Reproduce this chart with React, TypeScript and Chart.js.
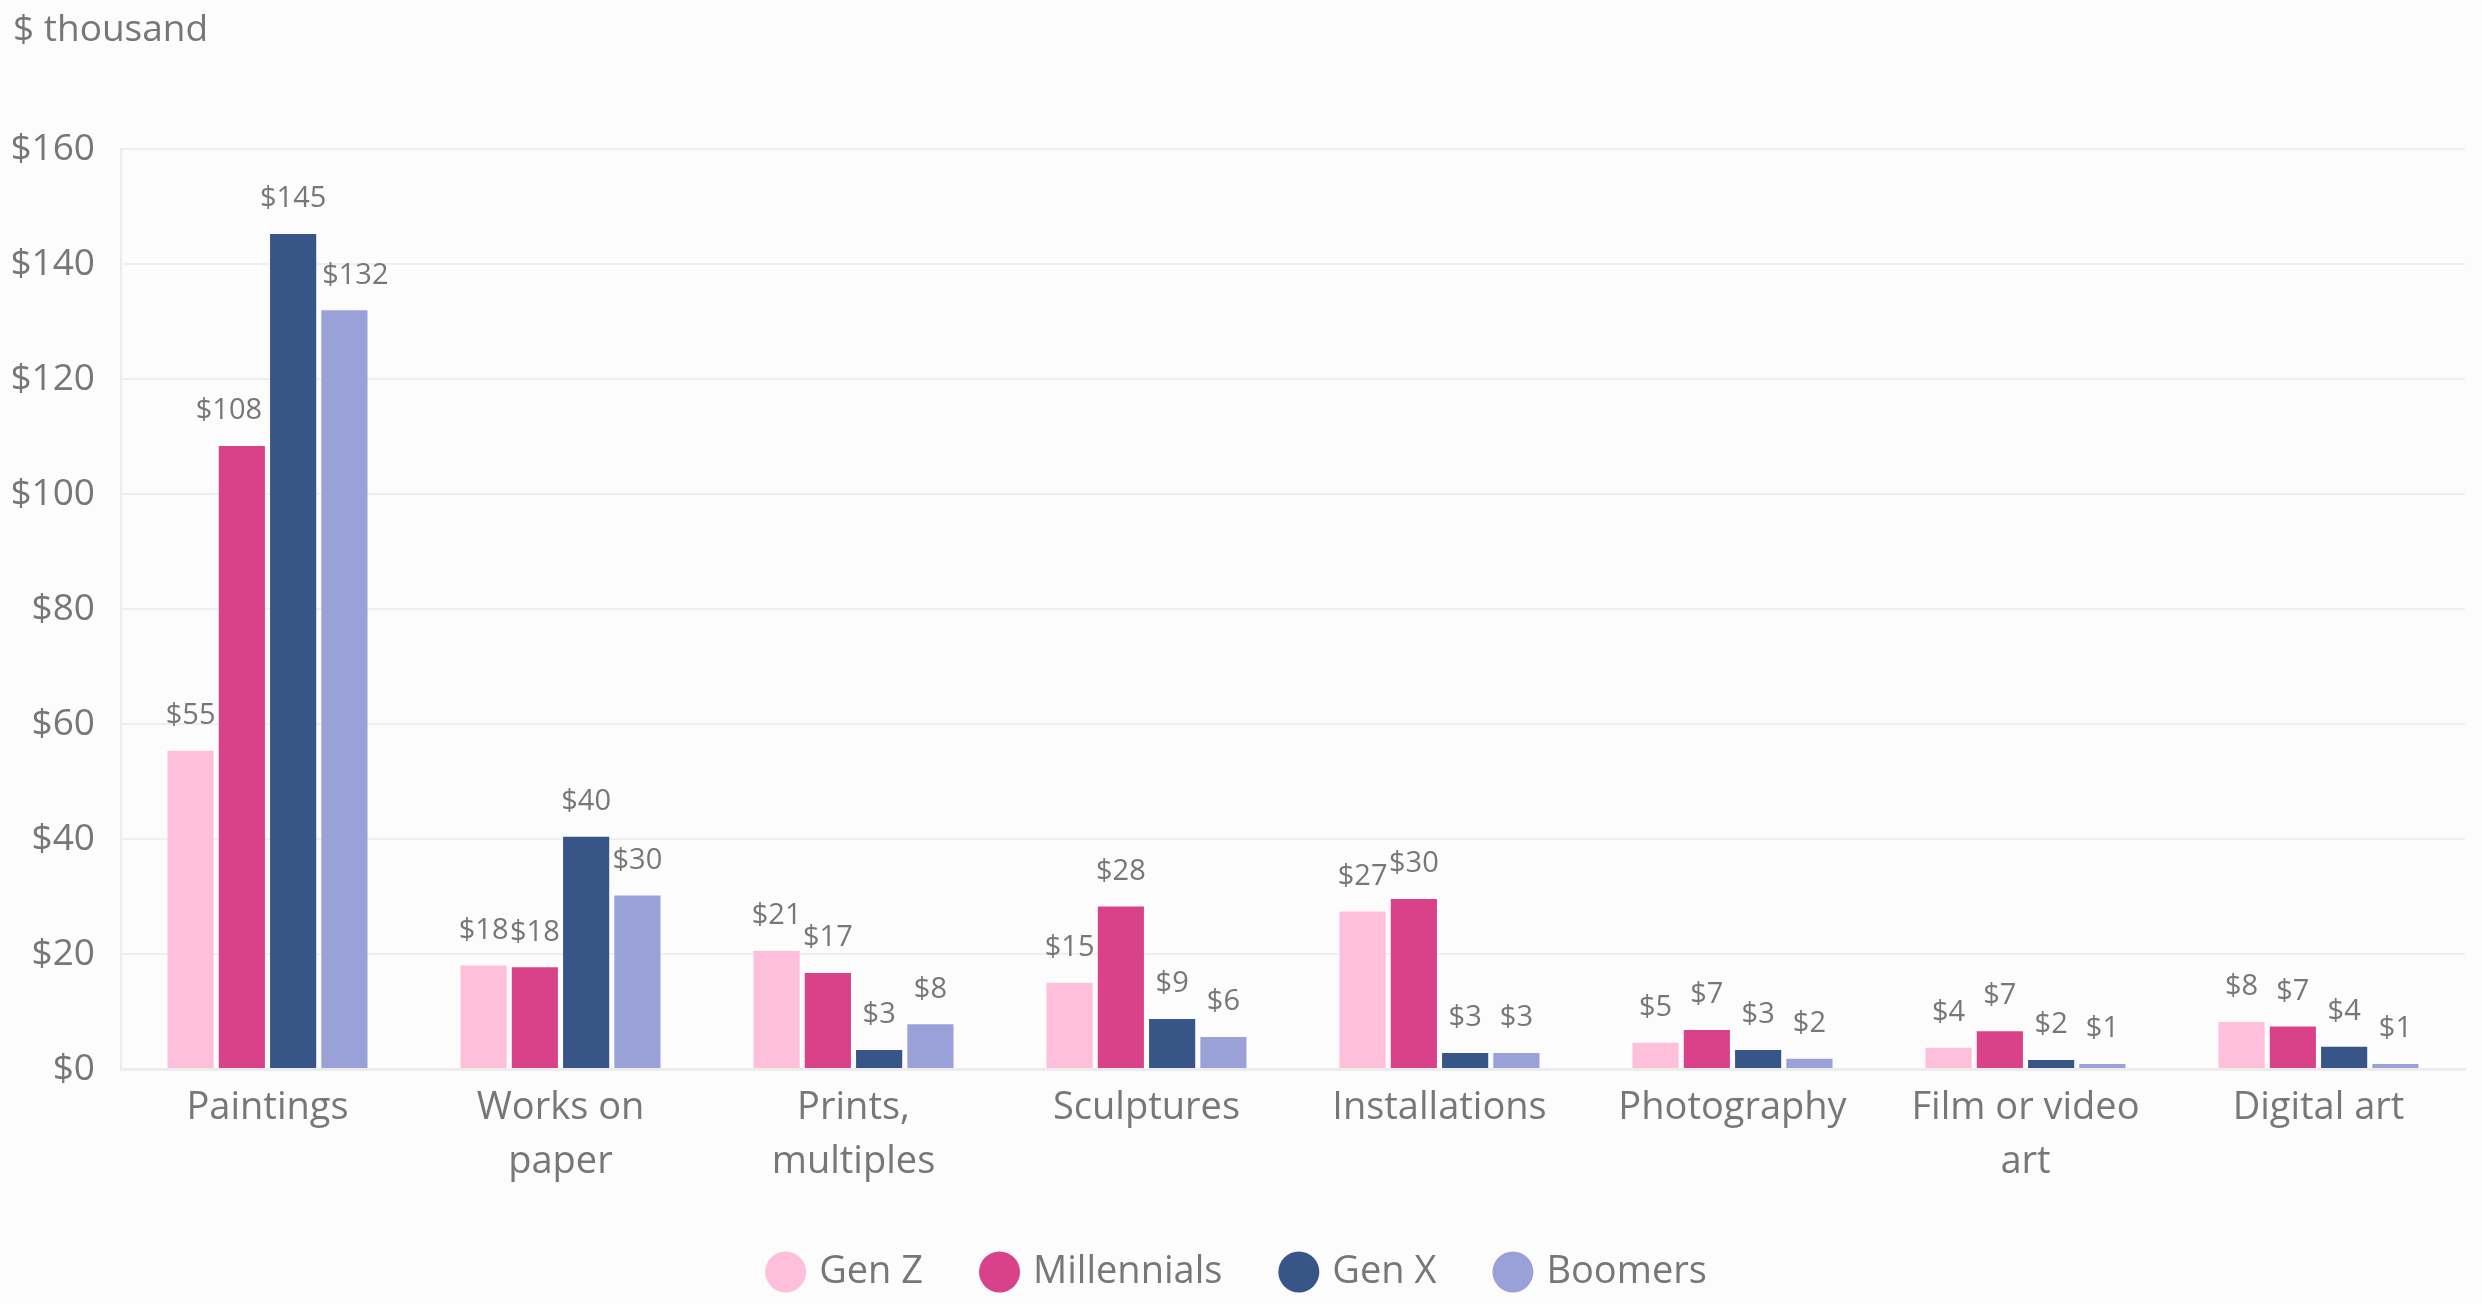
import React, { useEffect, useRef } from 'react';
import { Chart, registerables } from 'chart.js';

Chart.register(...registerables);

const categories: string[][] = [
  ['Paintings'],
  ['Works on', 'paper'],
  ['Prints,', 'multiples'],
  ['Sculptures'],
  ['Installations'],
  ['Photography'],
  ['Film or video', 'art'],
  ['Digital art'],
];
const seriesNames = ['Gen Z', 'Millennials', 'Gen X', 'Boomers'];
const genZ = [55.4, 18.0, 20.6, 15.0, 27.4, 4.6, 3.7, 8.2];
const millennials = [108.4, 17.7, 16.7, 28.3, 29.6, 6.8, 6.6, 7.4];
const genX = [145.3, 40.4, 3.3, 8.7, 2.8, 3.3, 1.6, 3.9];
const boomers = [132.0, 30.2, 7.8, 5.6, 2.8, 1.8, 0.9, 0.9];
const colors = ['#fdbfd9', '#d94289', '#375587', '#9aa1d9'];
const yTicks = [0, 20, 40, 60, 80, 100, 120, 140, 160];

const FONT = "'Open Sans', 'Noto Sans', sans-serif";
const GRAY = '#777777';

const valueLabels = {
  id: 'valueLabels',
  afterDatasetsDraw(chart: any) {
    const ctx = chart.ctx;
    ctx.save();
    ctx.font = `29px ${FONT}`;
    ctx.fillStyle = GRAY;
    ctx.textAlign = 'center';
    ctx.textBaseline = 'middle';
    const n = chart.data.datasets.length;
    chart.data.datasets.forEach((ds: any, di: number) => {
      const meta = chart.getDatasetMeta(di);
      meta.data.forEach((bar: any, i: number) => {
        const v = ds.data[i];
        const text = '$' + Math.round(v);
        const w = ctx.measureText(text).width;
        const cy = bar.y - 35;
        const bottom = cy + 14;
        let x = bar.x;
        // nudge away from taller neighbouring bars in the same group
        if (di + 1 < n) {
          const nb: any = chart.getDatasetMeta(di + 1).data[i];
          const nbLeft = nb.x - nb.width / 2;
          if (nb.y < bottom && x + w / 2 > nbLeft) x -= x + w / 2 - nbLeft + 8;
        }
        if (di - 1 >= 0) {
          const pb: any = chart.getDatasetMeta(di - 1).data[i];
          const pbRight = pb.x + pb.width / 2;
          if (pb.y < bottom && x - w / 2 < pbRight) x += pbRight - (x - w / 2) + 6;
        }
        ctx.fillText(text, x, cy);
      });
    });
    ctx.restore();
  },
};

export default function App() {
  const ref = useRef<HTMLCanvasElement>(null);
  useEffect(() => {
    if (!ref.current) return;
    const seriesData = [genZ, millennials, genX, boomers];
    const chart = new Chart(ref.current, {
      type: 'bar',
      data: {
        labels: categories,
        datasets: seriesNames.map((name, i) => ({
          label: name,
          data: seriesData[i],
          backgroundColor: colors[i],
          borderWidth: 0,
          categoryPercentage: 0.7,
          barPercentage: 0.9,
        })),
      },
      options: {
        animation: false,
        responsive: true,
        maintainAspectRatio: false,
        layout: { padding: { left: 13, right: 17, top: 0, bottom: 3 } },
        plugins: {
          title: {
            display: true,
            text: '$ thousand',
            align: 'start',
            color: GRAY,
            font: { family: FONT, size: 37, weight: 'normal' },
            padding: { top: 8, bottom: 97 },
          },
          legend: {
            position: 'bottom',
            labels: {
              usePointStyle: true,
              pointStyle: 'circle',
              boxWidth: 29,
              boxHeight: 29,
              padding: 62,
              color: GRAY,
              font: { family: FONT, size: 38 },
            },
          },
          tooltip: { enabled: false },
        },
        scales: {
          x: {
            grid: { display: false, drawTicks: false },
            border: { display: true, color: '#ececec', width: 3 },
            afterFit: (axis: any) => {
              axis.height -= 10;
            },
            ticks: {
              color: GRAY,
              padding: 12,
              font: { family: FONT, size: 38, lineHeight: 1.42 },
              maxRotation: 0,
              autoSkip: false,
            },
          },
          y: {
            min: 0,
            max: 160,
            afterBuildTicks: (axis: any) => {
              axis.ticks = yTicks.map((v) => ({ value: v }));
            },
            afterFit: (axis: any) => {
              axis.width = 108;
            },
            grid: { color: '#efefef', lineWidth: 2, drawTicks: false },
            border: { display: true, color: '#ececec', width: 2 },
            ticks: {
              color: GRAY,
              padding: 26,
              font: { family: FONT, size: 37 },
              callback: (v: any) => '$' + v,
            },
          },
        },
      },
      plugins: [valueLabels],
    } as any);
    return () => chart.destroy();
  }, []);
  return (
    <div style={{ position: 'fixed', left: 0, top: 0, width: 2482, height: 1304, background: '#fcfcfc' }}>
      <canvas ref={ref} />
    </div>
  );
}
